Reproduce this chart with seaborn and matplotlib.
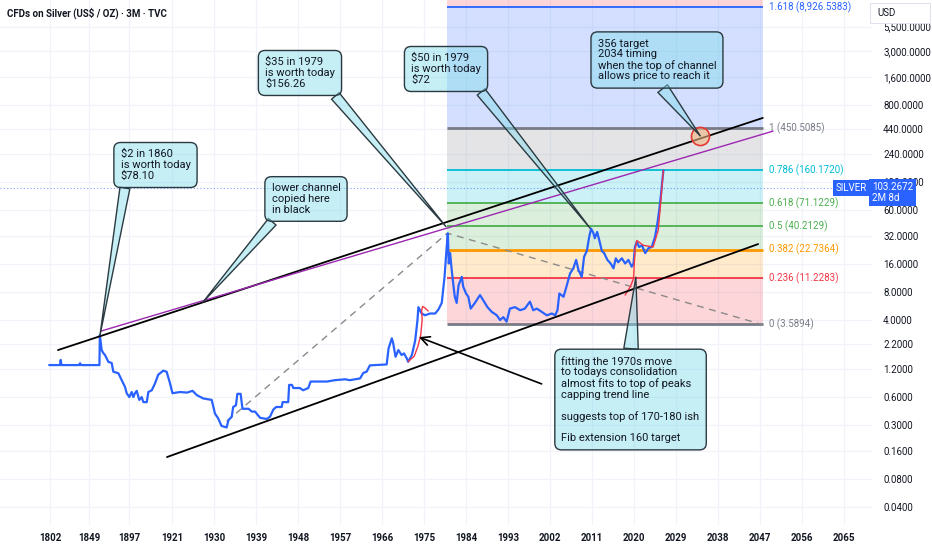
import numpy as np
import matplotlib
matplotlib.use("Agg")
import matplotlib.pyplot as plt
from matplotlib.patches import Rectangle
from matplotlib.ticker import FixedLocator, FuncFormatter, NullLocator
import seaborn as sns

# silver price (US$/oz)
years = [1801, 1814.0, 1814.9, 1815.8, 1837.0, 1838.2, 1839.4, 1861.5, 1862.0, 1864.2,
         1866.0, 1868.2, 1872.2, 1876.2, 1878.2, 1884.2, 1888.2, 1892.2, 1894.2, 1897.2,
         1898.5, 1899.4, 1900.3, 1901.3, 1902.7, 1904.1, 1905.0, 1906.9, 1907.8, 1909.7,
         1911.5, 1913.3, 1916.1, 1918.0, 1919.9, 1921.1, 1922.7, 1924.2, 1925.4, 1926.3,
         1927.7, 1929.5, 1930.2, 1930.9, 1931.6, 1932.7, 1933.1, 1933.8, 1934.1, 1934.7,
         1935.0, 1935.7, 1936.1, 1937.4, 1938.1, 1938.8, 1939.3, 1939.9, 1941.3, 1942.0,
         1942.7, 1943.3, 1944.5, 1944.7, 1945.9, 1946.1, 1946.7, 1947.0, 1948.4, 1949.1,
         1950.2, 1950.7, 1954.2, 1955.9, 1958.1, 1959.1, 1961.3, 1962.0, 1962.7, 1963.4,
         1967.0, 1967.4, 1968.1, 1968.4, 1968.9, 1969.5, 1970.2, 1970.7, 1971.3, 1971.6,
         1972.4, 1973.1, 1973.6, 1973.8, 1974.5, 1975.2, 1976.3, 1977.4, 1978.1, 1978.8,
         1979.4, 1979.8, 1980.1, 1980.3, 1980.6, 1980.9, 1981.3, 1981.6, 1982.0, 1982.4,
         1983.1, 1983.4, 1984.0, 1984.5, 1985.0, 1985.9, 1987.0, 1987.7, 1988.6, 1989.5,
         1990.6, 1991.3, 1992.0, 1992.7, 1993.4, 1994.5, 1995.6, 1996.6, 1997.7, 1998.4,
         1999.2, 2000.2, 2001.3, 2002.4, 2003.1, 2003.6, 2004.0, 2004.9, 2005.6, 2006.3,
         2007.0, 2007.6, 2008.1, 2008.8, 2009.3, 2009.9, 2010.4, 2010.8, 2011.3, 2011.6,
         2012.1, 2012.6, 2013.1, 2013.6, 2014.3, 2015.0, 2015.6, 2016.1, 2016.6, 2017.4,
         2018.1, 2018.8, 2019.5, 2019.9, 2020.2, 2020.6, 2021.1, 2021.7, 2022.4, 2023.1,
         2023.8, 2024.5, 2025.0, 2025.4, 2025.8, 2026.0, 2026.3]
prices = [1.32, 1.32, 1.50, 1.32, 1.32, 1.38, 1.32, 1.32, 2.76, 1.91,
          1.78, 1.69, 1.43, 1.39, 1.12, 1.08, 0.91, 0.77, 0.66, 0.60,
          0.68, 0.60, 0.66, 0.70, 0.56, 0.60, 0.53, 0.53, 0.68, 0.71,
          0.84, 1.04, 1.15, 1.12, 0.84, 0.66, 0.68, 0.67, 0.70, 0.63,
          0.58, 0.56, 0.40, 0.355, 0.295, 0.284, 0.34, 0.37, 0.47, 0.49,
          0.65, 0.65, 0.45, 0.45, 0.42, 0.42, 0.39, 0.36, 0.35, 0.37,
          0.44, 0.47, 0.47, 0.53, 0.53, 0.81, 0.81, 0.75, 0.75, 0.71,
          0.75, 0.88, 0.88, 0.91, 0.93, 0.91, 0.95, 1.09, 1.12, 1.31,
          1.34, 1.99, 2.55, 2.25, 1.62, 1.91, 1.69, 1.76, 1.56, 1.43,
          1.69, 2.4, 4.0, 5.5, 4.7, 4.5, 4.7, 4.7, 5.2, 6.1,
          11.6, 22, 33.8, 16.1, 20.8, 14.3, 9.4, 7.1, 6.1, 9.4,
          11.6, 9.1, 7.7, 7.1, 5.3, 6.1, 7.4, 6.5, 5.5, 4.9,
          4.5, 4.0, 4.3, 3.84, 5.3, 5.5, 5.1, 5.3, 6.3, 5.1,
          5.3, 4.9, 4.5, 4.7, 4.5, 5.1, 7.7, 7.1, 9.4, 12.6,
          14.3, 17.6, 13.7, 11.6, 19.0, 22, 31, 38, 34, 30,
          35, 28, 22, 20.8, 17.6, 16.1, 14.3, 18.3, 16.6, 18.3,
          16.1, 17.6, 14.9, 16.1, 24.2, 27.5, 24.2, 25.2, 20.8, 23.5,
          24.2, 31, 43, 60, 90, 115, 160]

# red "bars pattern" copies of the 1970s move
red70_years = [1971.6, 1972.9, 1973.7, 1974.3, 1974.6, 1974.5, 1974.7, 1975.2, 1975.9]
red70_prices = [1.44, 1.64, 2.1, 2.77, 4.0, 5.1, 5.6, 5.4, 5.0]
red20_years = [2018.1, 2019.2, 2019.9, 2020.2, 2020.6, 2022.0, 2024.1, 2025.2, 2025.7, 2026.1, 2026.3]
red20_prices = [7.4, 9.1, 11.1, 22, 28.4, 25.2, 24.2, 36.7, 70, 124, 160]

# trend-based fib extension
fib_ratios = [0, 0.236, 0.382, 0.5, 0.618, 0.786, 1, 1.618]
fib_prices = [3.5894, 11.2283, 22.7364, 40.2129, 71.1229, 160.1720, 450.5085, 8926.5383]
fib_colors = ["#787b86", "#f23645", "#ff9800", "#4caf50", "#4caf50", "#00bcd4", "#787b86", "#2962ff"]
fib_top_color = "#f23645"
fib_start, fib_end = 1979.9, 2047.6

# drawn lines (year, price)
upper_x, upper_y = [1811.6, 2047.6], [1.91, 581]
purple_x, purple_y = [1863.4, 2049.8], [3.05, 420]
lower_x, lower_y = [1918.2, 2046.6], [0.137, 26.0]
dash_x, dash_y = [1932.7, 1980.0, 2047.4], [0.33, 34.0, 3.5894]
arrow_tail, arrow_head = (2000.2, 0.83), (1973.9, 2.63)
target_year, target_price = 2034.2, 373
last_price = 103.2672

year_ticks = [1802, 1849, 1897, 1921, 1930, 1939, 1948, 1957, 1966, 1975, 1984,
              1993, 2002, 2011, 2020, 2029, 2038, 2047, 2056, 2065]
price_ticks = [0.04, 0.08, 0.16, 0.3, 0.6, 1.2, 2.2, 4, 8, 16, 32, 60, 120,
               240, 440, 800, 1600, 3000, 5500]

# TradingView squeezes the sparse early history: piecewise time axis
scale_years = [1700, 1802, 1849, 1897, 1921, 2100]
scale_pos = [-34.6, 50, 89, 129, 172, 1007.3]

sns.set_theme(style="white")
plt.rcParams['font.family'] = ['Roboto', 'DejaVu Sans']
ink = "#131722"

fig = plt.figure(figsize=(9.32, 5.5), dpi=100)
ax = fig.add_axes([0, 25 / 550, 872 / 932, 525 / 550])

sns.lineplot(x=years, y=prices, ax=ax, color="#2962ff", lw=1.6,
             estimator=None, sort=False, zorder=5)
sns.lineplot(x=red70_years, y=red70_prices, ax=ax, color="#f23645", lw=1.0,
             estimator=None, sort=False, zorder=6)
sns.lineplot(x=red20_years, y=red20_prices, ax=ax, color="#f23645", lw=1.0,
             estimator=None, sort=False, zorder=6)

ax.set_xscale('function', functions=(lambda v: np.interp(v, scale_years, scale_pos),
                                     lambda p: np.interp(p, scale_pos, scale_years)))
ax.set_yscale('log')
ax.set_xlim(1741.7, 2071.0)
ax.set_ylim(0.0257, 10608)
ymax = ax.get_ylim()[1]

# fib zones, lines and labels
for i in range(len(fib_prices) - 1):
    ax.fill_between([fib_start, fib_end], fib_prices[i], fib_prices[i + 1],
                    color=fib_colors[i + 1], alpha=0.2, lw=0, zorder=1)
ax.fill_between([fib_start, fib_end], fib_prices[-1], ymax,
                color=fib_top_color, alpha=0.2, lw=0, zorder=1)
for r, p, c in zip(fib_ratios, fib_prices, fib_colors):
    ax.hlines(p, fib_start, fib_end, color=c, lw=2.0 if r in (0.382, 0, 1) else 1.3, zorder=2)
    ax.text(2048.9, p, f"{r:g} ({p:,.4f})", color=c, fontsize=7, va='center', ha='left', zorder=3)

ax.axhline(last_price, color="#2962ff", lw=0.8, ls=(0, (1, 2)), alpha=0.6, zorder=2)

# trend lines
ax.plot(dash_x, dash_y, color="#8a8a8a", lw=1.0, ls=(0, (5, 4)), zorder=3)
ax.plot(upper_x, upper_y, color="black", lw=1.3, zorder=7)
ax.plot(purple_x, purple_y, color="#9c27b0", lw=1.0, zorder=7)
ax.plot(lower_x, lower_y, color="black", lw=1.3, zorder=7)
ax.annotate("", xy=arrow_head, xytext=arrow_tail,
            arrowprops=dict(arrowstyle="->", color="black", lw=1.2, mutation_scale=16,
                            shrinkA=0, shrinkB=0), zorder=8)
ax.scatter([target_year], [target_price], s=170, facecolor=(0.95, 0.7, 0.5, 0.6),
           edgecolor="#e53935", lw=1.2, zorder=9)

# callouts
c_fc = (0.5, 0.86, 0.92, 0.45)
c_ec = "#2b3a40"


def callout(text, tip, center, relpos, tw=0.9):
    ax.annotate(text, xy=tip, xycoords='data', xytext=center, textcoords='axes fraction',
                ha='center', va='center', multialignment='left', fontsize=8, color=ink,
                linespacing=1.08, zorder=10, annotation_clip=False,
                bbox=dict(boxstyle='round,pad=0.6,rounding_size=0.6', fc=c_fc, ec=c_ec, lw=1),
                arrowprops=dict(arrowstyle=f'wedge,tail_width={tw},shrink_factor=0.5',
                                fc=c_fc, ec=c_ec, lw=1, relpos=relpos, shrinkA=0, shrinkB=0))


callout("\\$2 in 1860\nis worth today\n\\$78.10", (1862.2, 2.76), (0.1783, 0.6857), (0.08, 0))
callout("lower channel\ncopied here\nin black", (1927.6, 6.2), (0.3509, 0.6210), (0.1, 0))
callout("\\$35 in 1979\nis worth today\n\\$156.26", (1979.7, 40), (0.3440, 0.8610), (0.92, 0))
callout("\\$50 in 1979\nis worth today\n\\$72", (2010.6, 38.4), (0.5115, 0.8686), (0.92, 0))
callout("356 target\n2034 timing\nwhen the top of channel\nallows price to reach it",
        (2034.2, 373), (0.7534, 0.8857), (0.5, 0), tw=1.1)
callout("fitting the 1970s move\nto todays consolidation\nalmost fits to top of peaks\n"
        "capping trend line\n\nsuggests top of 170-180 ish\n\nFib extension 160 target",
        (2020.4, 11.5), (0.7231, 0.2390), (0.5, 1), tw=1.3)

# axes styling
ax.set_xlabel("")
ax.set_ylabel("")
ax.xaxis.set_major_locator(FixedLocator(year_ticks))
ax.xaxis.set_minor_locator(NullLocator())
ax.set_xticklabels([str(y) for y in year_ticks], fontweight='semibold')
ax.yaxis.tick_right()
ax.yaxis.set_major_locator(FixedLocator(price_ticks))
ax.yaxis.set_minor_locator(NullLocator())
ax.yaxis.set_major_formatter(FuncFormatter(lambda v, _: f"{v:,.4f}"))
ax.tick_params(axis='x', length=0, pad=6, labelsize=7, labelcolor=ink)
ax.tick_params(axis='y', length=0, pad=8, labelsize=7, labelcolor=ink)
ax.grid(True, color="#f0f3fa", lw=0.9)
for s in ax.spines.values():
    s.set_visible(False)

fig.text(7 / 932, 1 - 13 / 550, "CFDs on Silver (US\\$ / OZ) · 3M · TVC",
         fontsize=7, fontweight='bold', color=ink, va='center')
fig.add_artist(Rectangle((870 / 932, 1 - 23 / 550), 60 / 932, 20 / 550,
                         transform=fig.transFigure, fc='white', ec='#e0e3eb', lw=0.8, zorder=5))
fig.text(877 / 932, 1 - 13 / 550, "USD", fontsize=7, color=ink, va='center', zorder=6)
fig.text(851.5 / 932, 1 - 188 / 550, "SILVER", fontsize=7, color='white', va='center', ha='center',
         bbox=dict(boxstyle='square,pad=0.3', fc='#2962ff', ec='none'), zorder=6)
fig.text(872 / 932, 1 - 192.5 / 550, "103.2672\n2M 8d", fontsize=7, color='white', va='center',
         ha='left', linespacing=1.1,
         bbox=dict(boxstyle='square,pad=0.3', fc='#2962ff', ec='none'), zorder=6)

fig.savefig("out.png", dpi=100)
